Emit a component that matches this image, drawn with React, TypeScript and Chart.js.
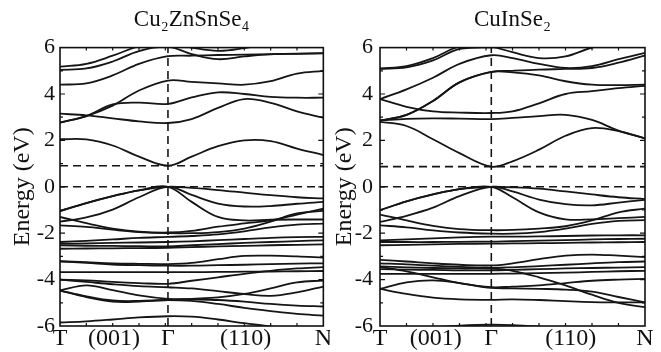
import React, { useEffect, useRef } from "react";
import { Chart, registerables } from "chart.js";
Chart.register(...registerables);

// ---------- data ----------
const X_TICK_LABELS = ["T", "(001)", "Γ", "(110)", "N"];
const Y_TICKS = [-6, -4, -2, 0, 2, 4, 6];
const Y_RANGE = [-6, 6];
const VBM = 0;

// Cu2ZnSnSe4 : k positions along T -> Γ -> N (fraction of path)
const CZTS_GAMMA = 0.41;
const CZTS_K = [0, 0.1, 0.2, 0.3, 0.41, 0.5, 0.6, 0.7, 0.8, 0.9, 1];
const CZTS_X_TICKS = [0, 0.205, 0.41, 0.705, 1];
const CZTS_CBM = 0.91;
const CZTS_BANDS: number[][] = [
  // conduction
  [2.05, 2.04, 1.78, 1.3, 0.91, 1.3, 1.75, 2.0, 1.97, 1.65, 1.37],
  [3.15, 3.08, 2.95, 2.82, 2.75, 2.92, 3.4, 3.78, 3.62, 3.25, 2.98],
  [2.77, 3.05, 3.5, 4.15, 4.58, 4.52, 4.46, 4.4, 4.55, 4.88, 5.0],
  [2.77, 3.05, 3.55, 3.63, 3.57, 3.85, 4.07, 4.0, 3.88, 3.84, 3.84],
  [4.4, 4.46, 4.8, 5.3, 5.63, 5.65, 5.68, 5.7, 5.72, 5.74, 5.76],
  [5.04, 5.1, 5.4, 5.85, 6.03, 5.72, 5.5, 5.62, 5.71, 5.73, 5.75],
  [5.18, 5.3, 5.65, 6.05, 6.2, 6.0, 5.86, 5.98, 6.2, 6.3, 6.3],
  // valence
  [-1.05, -0.7, -0.4, -0.15, 0, -0.05, -0.14, -0.25, -0.36, -0.45, -0.5],
  [-1.5, -1.32, -0.98, -0.45, 0, -0.35, -0.72, -0.85, -0.83, -0.73, -0.65],
  [-1.05, -0.7, -0.4, -0.15, 0, -0.65, -1.3, -1.45, -1.42, -1.41, -1.41],
  [-1.3, -1.57, -1.8, -1.93, -1.97, -1.9, -1.72, -1.58, -1.45, -1.2, -0.94],
  [-1.66, -1.73, -1.85, -1.95, -2.0, -2.0, -1.95, -1.8, -1.5, -1.15, -1.04],
  [-2.38, -2.33, -2.27, -2.2, -2.16, -2.12, -2.05, -1.92, -1.75, -1.63, -1.59],
  [-2.45, -2.44, -2.42, -2.4, -2.38, -2.35, -2.3, -2.25, -2.2, -2.17, -2.16],
  [-2.52, -2.54, -2.55, -2.56, -2.57, -2.52, -2.47, -2.42, -2.38, -2.34, -2.31],
  [-2.67, -2.66, -2.65, -2.64, -2.63, -2.6, -2.57, -2.55, -2.52, -2.5, -2.48],
  [-3.2, -3.25, -3.3, -3.32, -3.33, -3.28, -3.12, -2.98, -2.97, -3.0, -3.05],
  [-3.22, -3.28, -3.35, -3.38, -3.4, -3.4, -3.38, -3.36, -3.33, -3.31, -3.3],
  [-3.68, -3.68, -3.68, -3.68, -3.68, -3.68, -3.67, -3.66, -3.65, -3.64, -3.63],
  [-4.0, -4.03, -4.1, -4.15, -4.18, -4.05, -3.9, -3.75, -3.62, -3.52, -3.46],
  [-4.0, -4.1, -4.2, -4.28, -4.33, -4.38, -4.5, -4.62, -4.7, -4.55, -4.3],
  [-4.47, -4.25, -4.45, -4.68, -4.83, -4.85, -4.88, -4.95, -5.05, -5.12, -5.16],
  [-4.47, -4.75, -4.95, -4.95, -4.88, -4.83, -4.77, -4.62, -4.38, -4.12, -4.04],
  [-4.47, -4.72, -4.9, -4.92, -4.88, -4.92, -5.05, -5.22, -5.36, -5.48, -5.55],
  [-5.85, -5.8, -5.72, -5.63, -5.58, -5.6, -5.72, -5.88, -6.02, -6.15, -6.25],
];

// CuInSe2
const CIS_GAMMA = 0.42;
const CIS_K = [0, 0.1, 0.2, 0.3, 0.42, 0.5, 0.6, 0.7, 0.8, 0.9, 1];
const CIS_X_TICKS = [0, 0.21, 0.42, 0.72, 1];
const CIS_CBM = 0.87;
const CIS_BANDS: number[][] = [
  // conduction
  [2.8, 2.62, 2.05, 1.45, 0.87, 1.1, 1.6, 2.2, 2.53, 2.4, 2.09],
  [2.86, 2.93, 2.95, 2.94, 2.92, 2.97, 3.05, 3.1, 2.88, 2.42, 2.09],
  [2.85, 3.1, 3.7, 4.5, 4.95, 4.93, 4.8, 4.55, 4.4, 4.38, 4.4],
  [2.85, 3.1, 3.7, 4.5, 4.95, 5.0, 5.05, 5.08, 5.12, 5.35, 5.66],
  [3.78, 4.2, 4.7, 5.3, 5.67, 5.55, 5.3, 5.12, 5.2, 5.5, 5.77],
  [3.78, 3.45, 3.25, 3.2, 3.18, 3.25, 3.6, 4.0, 4.12, 4.25, 4.35],
  [5.08, 5.15, 5.45, 5.95, 6.02, 5.8, 5.55, 5.62, 6.0, 6.2, 6.3],
  [5.1, 5.2, 5.55, 6.05, 6.2, 6.3, 6.3, 6.3, 6.3, 6.3, 6.3],
  // valence
  [-1.01, -0.63, -0.33, -0.1, 0, -0.02, -0.08, -0.2, -0.33, -0.45, -0.53],
  [-1.51, -1.25, -0.9, -0.4, 0, -0.2, -0.55, -0.75, -0.8, -0.68, -0.56],
  [-1.01, -0.63, -0.33, -0.1, 0, -0.45, -1.1, -1.4, -1.4, -1.35, -1.3],
  [-1.2, -1.45, -1.68, -1.82, -1.87, -1.86, -1.8, -1.7, -1.45, -1.1, -0.94],
  [-1.66, -1.75, -1.88, -1.97, -2.02, -2.02, -1.95, -1.8, -1.6, -1.47, -1.44],
  [-2.31, -2.27, -2.22, -2.18, -2.15, -2.15, -2.14, -2.12, -2.1, -2.09, -2.09],
  [-2.38, -2.38, -2.38, -2.37, -2.36, -2.34, -2.32, -2.3, -2.27, -2.25, -2.24],
  [-2.52, -2.5, -2.48, -2.46, -2.45, -2.44, -2.43, -2.42, -2.4, -2.39, -2.38],
  [-3.15, -3.22, -3.3, -3.36, -3.39, -3.3, -3.12, -2.97, -2.92, -2.97, -3.03],
  [-3.3, -3.34, -3.4, -3.45, -3.49, -3.47, -3.42, -3.36, -3.3, -3.25, -3.22],
  [-3.43, -3.47, -3.5, -3.52, -3.53, -3.62, -3.9, -4.25, -4.65, -5.0, -5.19],
  [-3.55, -3.57, -3.58, -3.6, -3.6, -3.58, -3.55, -3.52, -3.5, -3.48, -3.46],
  [-3.75, -3.75, -3.75, -3.75, -3.75, -3.74, -3.72, -3.7, -3.67, -3.64, -3.62],
  [-3.45, -3.65, -3.9, -4.15, -4.33, -4.3, -4.25, -4.15, -4.05, -4.0, -3.97],
  [-4.4, -4.12, -4.03, -4.15, -4.36, -4.38, -4.4, -4.43, -4.52, -4.75, -4.98],
  [-4.4, -4.62, -4.78, -4.85, -4.87, -4.85, -4.88, -4.93, -4.97, -4.98, -4.98],
  [-6.2, -6.12, -6.05, -5.98, -5.94, -5.96, -6.03, -6.12, -6.2, -6.25, -6.3],
];

// ---------- chart ----------
const FONT = "'Liberation Serif', 'Times New Roman', serif";

const framePlugin = {
  id: "frameTicks",
  afterDatasetsDraw(chart: any) {
    const { ctx, chartArea, scales } = chart;
    const { left, right, top, bottom } = chartArea;
    const xs = scales.x;
    const ys = scales.y;
    ctx.save();
    ctx.strokeStyle = "#111";
    ctx.lineWidth = 1.6;
    ctx.strokeRect(left, top, right - left, bottom - top);
    ctx.lineWidth = 1.2;
    ctx.beginPath();
    for (let v = Y_RANGE[0] + 1; v < Y_RANGE[1]; v += 1) {
      const py = ys.getPixelForValue(v);
      const len = v % 2 === 0 ? 5 : 3;
      ctx.moveTo(left, py);
      ctx.lineTo(left + len, py);
      ctx.moveTo(right, py);
      ctx.lineTo(right - len, py);
    }
    for (let i = 1; i < 10; i++) {
      const px = xs.getPixelForValue(i / 10);
      ctx.moveTo(px, bottom);
      ctx.lineTo(px, bottom - 3);
      ctx.moveTo(px, top);
      ctx.lineTo(px, top + 3);
    }
    ctx.stroke();
    ctx.restore();
  },
};

type Panel = {
  title: string;
  k: number[];
  bands: number[][];
  gamma: number;
  cbm: number;
  xTicks: number[];
  yWidth: number;
  padRight: number;
  yTitlePad: number;
  yTickPad: number;
};

function makeConfig(p: Panel): any {
  const dash = [8, 5];
  const datasets: any[] = p.bands.map((b) => ({
    data: b.map((e, i) => ({ x: p.k[i], y: e })),
    borderColor: "#151515",
    borderWidth: 1.8,
    pointRadius: 0,
    tension: 0.38,
    fill: false,
  }));
  const dashed = (data: any[]) => ({
    data,
    borderColor: "#151515",
    borderWidth: 1.6,
    borderDash: dash,
    pointRadius: 0,
    fill: false,
    tension: 0,
  });
  datasets.push(dashed([{ x: 0, y: VBM }, { x: 1, y: VBM }]));
  datasets.push(dashed([{ x: 0, y: p.cbm }, { x: 1, y: p.cbm }]));
  datasets.push(dashed([{ x: p.gamma, y: Y_RANGE[0] }, { x: p.gamma, y: Y_RANGE[1] }]));

  return {
    type: "line",
    data: { datasets },
    plugins: [framePlugin],
    options: {
      animation: false,
      responsive: false,
      maintainAspectRatio: false,
      layout: { padding: { left: 0, right: p.padRight, top: 0, bottom: 0 } },
      plugins: {
        legend: { display: false },
        tooltip: { enabled: false },
        title: {
          display: true,
          text: p.title,
          fullSize: false,
          color: "#111",
          font: { family: FONT, size: 23, weight: "normal", lineHeight: 1.2 },
          padding: { top: 6, bottom: 14 },
        },
      },
      scales: {
        x: {
          type: "linear",
          min: 0,
          max: 1,
          afterBuildTicks: (s: any) => {
            s.ticks = p.xTicks.map((v) => ({ value: v }));
          },
          afterFit: (s: any) => {
            s.height = 26;
          },
          ticks: {
            autoSkip: false,
            maxRotation: 0,
            padding: -2,
            color: "#111",
            font: { family: FONT, size: 24 },
            callback: (_v: any, i: number) => X_TICK_LABELS[i],
          },
          grid: { display: false, drawTicks: false },
          border: { display: false },
        },
        y: {
          type: "linear",
          min: Y_RANGE[0],
          max: Y_RANGE[1],
          afterBuildTicks: (s: any) => {
            s.ticks = Y_TICKS.map((v) => ({ value: v }));
          },
          afterFit: (s: any) => {
            s.width = p.yWidth;
          },
          ticks: {
            padding: p.yTickPad,
            color: "#111",
            font: { family: FONT, size: 22 },
          },
          grid: { display: false, drawTicks: false },
          border: { display: false },
          title: {
            display: true,
            text: "Energy (eV)",
            color: "#111",
            font: { family: FONT, size: 24 },
            padding: { top: p.yTitlePad, bottom: 0 },
          },
        },
      },
    },
  };
}

function BandChart({ panel, width, height }: { panel: Panel; width: number; height: number }) {
  const ref = useRef<HTMLCanvasElement | null>(null);
  useEffect(() => {
    if (!ref.current) return;
    const chart = new Chart(ref.current, makeConfig(panel));
    return () => chart.destroy();
  }, [panel]);
  return <canvas ref={ref} width={width} height={height} style={{ display: "block", width, height }} />;
}

const LEFT: Panel = {
  title: "Cu₂ZnSnSe₄",
  k: CZTS_K,
  bands: CZTS_BANDS,
  gamma: CZTS_GAMMA,
  cbm: CZTS_CBM,
  xTicks: CZTS_X_TICKS,
  yWidth: 60,
  padRight: 5,
  yTitlePad: 8,
  yTickPad: 5,
};

const RIGHT: Panel = {
  title: "CuInSe₂",
  k: CIS_K,
  bands: CIS_BANDS,
  gamma: CIS_GAMMA,
  cbm: CIS_CBM,
  xTicks: CIS_X_TICKS,
  yWidth: 50,
  padRight: 16,
  yTitlePad: 0,
  yTickPad: 7,
};

export default function App() {
  return (
    <div style={{ position: "fixed", left: 0, top: 0, width: 661, height: 352, background: "#fff", display: "flex" }}>
      <BandChart panel={LEFT} width={330} height={352} />
      <BandChart panel={RIGHT} width={331} height={352} />
    </div>
  );
}
